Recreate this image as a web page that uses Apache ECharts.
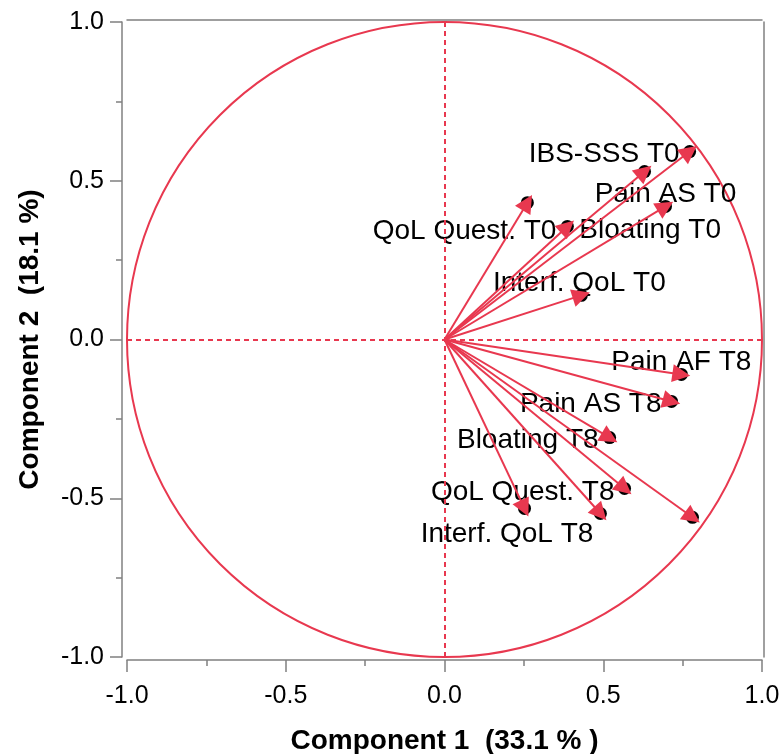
<!DOCTYPE html>
<html>
<head>
<meta charset="utf-8">
<script src="https://cdn.jsdelivr.net/npm/echarts@6/dist/echarts.min.js"></script>
<style>
  html, body { margin: 0; padding: 0; background: #fff; }
  #chart { width: 781px; height: 754px; }
</style>
</head>
<body>
<div id="chart"></div>
<script>
// loadings (component 1, component 2)
const loadX = [0.772, 0.630, 0.261, 0.696, 0.387, 0.431, 0.746, 0.715, 0.520, 0.567, 0.781, 0.252, 0.491];
const loadY = [0.592, 0.529, 0.431, 0.419, 0.356, 0.139, -0.110, -0.195, -0.309, -0.469, -0.560, -0.532, -0.548];
const varLabels = ['IBS-SSS T0', '', 'QoL Quest. T0', 'Pain AS T0', 'Bloating T0', 'Interf. QoL T0',
  'Pain AF T8', 'Pain AS T8', 'Bloating T8', 'QoL Quest. T8', '', '', 'Interf. QoL T8'];

const RED = '#e8384f';
const AXIS_GREY = '#808080';
const FONT = 'Liberation Sans, Arial, Helvetica, sans-serif';

// label placement: [dx, dy, align] relative to the dot
const labelPlace = {
  'IBS-SSS T0': [-10, 3, 'right'],
  'QoL Quest. T0': [29, 29, 'right'],
  'Pain AS T0': [0, -12, 'center'],
  'Bloating T0': [12, 4, 'left'],
  'Interf. QoL T0': [-2, -12, 'center'],
  'Pain AF T8': [0, -12, 'center'],
  'Pain AS T8': [-10, 3, 'right'],
  'Bloating T8': [-11, 3, 'right'],
  'QoL Quest. T8': [-10, 4, 'right'],
  'Interf. QoL T8': [-7, 21, 'right']
};

const points = loadX.map((x, i) => {
  const name = varLabels[i];
  const p = labelPlace[name];
  return {
    value: [x, loadY[i]],
    name: name,
    label: p ? { show: true, offset: [p[0], p[1]], align: p[2] } : { show: false }
  };
});
const arrows = loadX.map((x, i) => ({ coords: [[0, 0], [x, loadY[i]]] }));

const chart = echarts.init(document.getElementById('chart'));

function baseAxis(extra) {
  return Object.assign({
    type: 'value',
    min: -1,
    max: 1,
    interval: 0.5,
    splitLine: { show: false },
    axisLine: { show: true, onZero: false, lineStyle: { color: AXIS_GREY, width: 1.5 } },
    axisTick: { show: true, inside: false, length: 12, lineStyle: { color: AXIS_GREY, width: 1.5 } },
    minorTick: { show: true, splitNumber: 2, length: 6, lineStyle: { color: AXIS_GREY, width: 1.5 } },
    axisLabel: {
      show: true,
      fontSize: 25,
      color: '#000',
      fontFamily: FONT,
      margin: 18,
      formatter: v => v.toFixed(1)
    }
  }, extra);
}

const frameAxis = {
  axisTick: { show: false },
  minorTick: { show: false },
  axisLabel: { show: false }
};

const xMain = baseAxis({
  position: 'bottom',
  offset: 3,
  name: 'Component 1  (33.1 % )',
  nameLocation: 'middle',
  nameGap: 67,
  nameTextStyle: { fontSize: 28, fontWeight: 'bold', color: '#000', fontFamily: FONT }
});
xMain.axisLabel = Object.assign({}, xMain.axisLabel, { margin: 24 });

chart.setOption({
  animation: false,
  backgroundColor: '#fff',
  grid: { left: 127, right: 19, top: 22, bottom: 97, outerBoundsMode: 'none' },
  xAxis: [
    xMain,
    baseAxis(Object.assign({ position: 'top', offset: 2 }, frameAxis))
  ],
  yAxis: [
    baseAxis({
      position: 'left',
      offset: 5,
      name: 'Component 2  (18.1 %)',
      nameLocation: 'middle',
      nameGap: 78,
      nameTextStyle: { fontSize: 28, fontWeight: 'bold', color: '#000', fontFamily: FONT }
    }),
    baseAxis(Object.assign({ position: 'right', offset: 2 }, frameAxis))
  ],
  series: [
    {
      // unit circle
      type: 'custom',
      silent: true,
      clip: false,
      data: [[0, 0, 1]],
      renderItem: (params, api) => {
        const c = api.coord([api.value(0), api.value(1)]);
        const r = api.size([api.value(2), 0])[0];
        return {
          type: 'circle',
          shape: { cx: c[0], cy: c[1], r: r },
          style: { fill: 'none', stroke: RED, lineWidth: 2 }
        };
      },
      z: 1
    },
    {
      type: 'scatter',
      data: points,
      symbol: 'circle',
      symbolSize: 13,
      itemStyle: { color: '#000', opacity: 1 },
      label: {
        position: 'inside',
        verticalAlign: 'middle',
        fontSize: 28,
        color: '#000',
        textBorderWidth: 0,
        fontFamily: FONT,
        formatter: p => p.name
      },
      markLine: {
        silent: true,
        symbol: 'none',
        label: { show: false },
        lineStyle: { color: RED, type: [5, 4], width: 2, opacity: 1 },
        data: [{ xAxis: 0 }, { yAxis: 0 }]
      },
      z: 2
    },
    {
      type: 'lines',
      coordinateSystem: 'cartesian2d',
      data: arrows,
      symbol: ['none', 'triangle'],
      symbolSize: 18,
      lineStyle: { color: RED, width: 2, opacity: 1 },
      z: 3
    }
  ]
});
</script>
</body>
</html>
